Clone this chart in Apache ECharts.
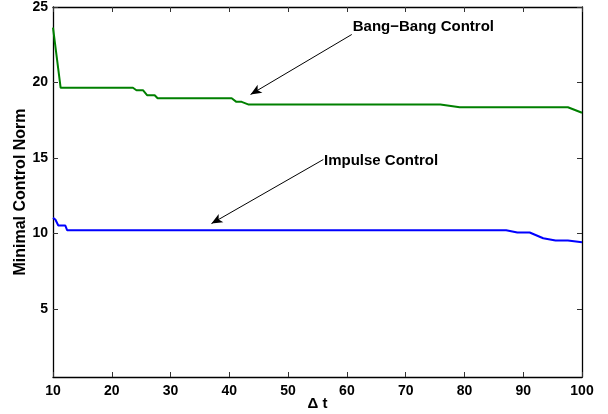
<!DOCTYPE html>
<html>
<head>
<meta charset="utf-8">
<script src="https://cdn.jsdelivr.net/npm/echarts@6/dist/echarts.min.js"></script>
<style>
  html, body { margin: 0; padding: 0; background: #fff; overflow: hidden; }
  #chart { width: 608px; height: 414px; }
</style>
</head>
<body>
<div id="chart"></div>
<script>
// values
var bangX = [10, 11.3, 23.6, 24.2, 25.3, 26, 27.3, 27.8, 40.4, 41.2, 42.1, 43.3, 75.9, 79.2, 97.6, 100];
var bangY = [23.64, 19.65, 19.65, 19.49, 19.49, 19.16, 19.16, 18.96, 18.96, 18.72, 18.72, 18.54, 18.54, 18.36, 18.36, 18.0];
var impX = [10, 10.4, 10.9, 12.1, 12.4, 87.1, 89, 91.1, 93.4, 95.5, 97.6, 100];
var impY = [11.04, 10.93, 10.53, 10.53, 10.22, 10.22, 10.07, 10.07, 9.69, 9.54, 9.54, 9.43];
var yTicks = [5, 10, 15, 20, 25];

// annotation text anchors and arrows [from, to] in data units
var bangText = { name: 'Bang\u2212Bang Control', coord: [61.0, 23.71] };
var impText = { name: 'Impulse Control', coord: [56.1, 14.83] };
var bangArrow = [[60.83, 23.18], [43.61, 19.21]];
var impArrow = [[55.99, 14.90], [36.96, 10.66]];

function pairs(xs, ys) {
  return xs.map(function (x, i) { return [x, ys[i]]; });
}

var font = 'Liberation Sans, Arial, sans-serif';
var chart = echarts.init(document.getElementById('chart'));

var axisLine = { show: true, onZero: false, lineStyle: { color: '#000', width: 1.3 } };
var tick = { show: true, inside: true, length: 5, lineStyle: { color: '#333', width: 1 } };

chart.setOption({
  animation: false,
  grid: { left: 53, right: 26, top: 7, bottom: 37, containLabel: false, outerBoundsMode: 'none' },
  xAxis: [{
    type: 'value', min: 10, max: 100, interval: 10,
    name: '\u0394 t', nameLocation: 'middle', nameGap: 19, nameMoveOverlap: false,
    nameTextStyle: { fontFamily: font, fontWeight: 'bold', fontSize: 15, color: '#000', verticalAlign: 'top' },
    axisLine: axisLine, axisTick: tick, splitLine: { show: false },
    axisLabel: { margin: 7, fontFamily: font, fontWeight: 'bold', fontSize: 14, color: '#000' }
  }, {
    type: 'value', position: 'top', min: 10, max: 100, interval: 10,
    axisLine: axisLine, axisTick: tick, splitLine: { show: false },
    axisLabel: { show: false }
  }],
  yAxis: [{
    type: 'value', min: 0.5, max: 25,
    name: 'Minimal Control Norm', nameLocation: 'middle', nameGap: 24, nameMoveOverlap: false,
    nameTextStyle: { fontFamily: font, fontWeight: 'bold', fontSize: 16, color: '#000' },
    axisLine: axisLine, splitLine: { show: false },
    axisTick: Object.assign({ customValues: yTicks }, tick),
    axisLabel: { customValues: yTicks, margin: 5, fontFamily: font, fontWeight: 'bold', fontSize: 14, color: '#000' }
  }, {
    type: 'value', position: 'right', min: 0.5, max: 25,
    axisLine: axisLine, splitLine: { show: false },
    axisTick: Object.assign({ customValues: yTicks }, tick),
    axisLabel: { show: false }
  }],
  series: [{
    name: 'Bang-Bang Control',
    type: 'line',
    data: pairs(bangX, bangY),
    showSymbol: false,
    lineStyle: { color: '#008000', width: 2 },
    itemStyle: { color: '#008000' },
    markLine: {
      silent: true, symbol: ['none', 'arrow'], symbolSize: [7, 11],
      lineStyle: { color: '#000', width: 1, type: 'solid' }, label: { show: false },
      data: [[{ coord: bangArrow[0] }, { coord: bangArrow[1] }]]
    },
    markPoint: {
      silent: true, symbol: 'circle', symbolSize: 0,
      label: { show: true, position: 'right', distance: 0, formatter: '{b}', fontFamily: font, fontWeight: 'bold', fontSize: 15, color: '#000' },
      data: [bangText]
    }
  }, {
    name: 'Impulse Control',
    type: 'line',
    data: pairs(impX, impY),
    showSymbol: false,
    lineStyle: { color: '#0000ff', width: 2 },
    itemStyle: { color: '#0000ff' },
    markLine: {
      silent: true, symbol: ['none', 'arrow'], symbolSize: [7, 11],
      lineStyle: { color: '#000', width: 1, type: 'solid' }, label: { show: false },
      data: [[{ coord: impArrow[0] }, { coord: impArrow[1] }]]
    },
    markPoint: {
      silent: true, symbol: 'circle', symbolSize: 0,
      label: { show: true, position: 'right', distance: 0, formatter: '{b}', fontFamily: font, fontWeight: 'bold', fontSize: 15, color: '#000' },
      data: [impText]
    }
  }]
});
</script>
</body>
</html>
